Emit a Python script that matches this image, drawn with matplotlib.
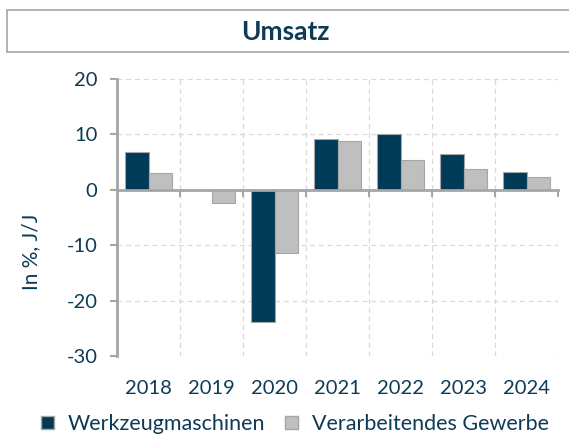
import matplotlib
matplotlib.use("Agg")
import matplotlib.pyplot as plt
from matplotlib.patches import Rectangle, Patch
import numpy as np

years = ["2018", "2019", "2020", "2021", "2022", "2023", "2024"]
werkzeug = [6.8, 0.0, -23.8, 9.1, 10.1, 6.4, 3.3]
gewerbe = [3.1, -2.3, -11.4, 8.8, 5.4, 3.7, 2.3]
yticks = [-30, -20, -10, 0, 10, 20]

DARK = "#003a57"
GREY = "#bfbfbf"
EDGE = "#a6a6a6"
TXT = "#0d3b55"

plt.rcParams['font.family'] = ['Lato', 'DejaVu Sans']
plt.rcParams['axes.unicode_minus'] = False

fig = plt.figure(figsize=(5.69, 4.38), dpi=100)
ax = fig.add_axes([117/569, 1-356/438, (558-117)/569, (356-79)/438])

x = np.arange(len(years))
w = 0.37
ax.bar(x - w/2, werkzeug, w, color=DARK, edgecolor=EDGE, linewidth=0.8, zorder=3)
ax.bar(x + w/2, gewerbe, w, color=GREY, edgecolor=EDGE, linewidth=0.8, zorder=3)

ax.set_xlim(-0.5, len(years) - 0.5)
ax.set_ylim(-30, 20)
ax.set_yticks(yticks)
ax.tick_params(axis='y', colors=EDGE, labelcolor=TXT, labelsize=14.5, length=5, width=1.5, direction='out', pad=9)

ax.spines['bottom'].set_position(('data', 0))
ax.spines['bottom'].set_color(EDGE)
ax.spines['bottom'].set_linewidth(2)
ax.spines['bottom'].set_zorder(4)
ax.spines['left'].set_color(EDGE)
ax.spines['left'].set_linewidth(2)
ax.spines['top'].set_visible(False)
ax.spines['right'].set_visible(False)

ax.set_xticks(x)
ax.set_xticklabels([])
ax.tick_params(axis='x', which='major', length=0)
ax.set_xticks(np.arange(0.5, len(years), 1.0), minor=True)
ax.tick_params(axis='x', which='minor', length=5, width=1.5, colors=EDGE, direction='out')

ax.grid(axis='y', which='major', linestyle=(0, (4, 3)), color="#d9d9d9", linewidth=0.9, zorder=0)
ax.grid(axis='x', which='minor', linestyle=(0, (4, 3)), color="#d9d9d9", linewidth=0.9, zorder=0)

sec = ax.secondary_xaxis(0)
sec.set_xticks(x)
sec.set_xticklabels(years)
sec.tick_params(length=0, labelsize=14.5, labelcolor=TXT, pad=17)
sec.spines['bottom'].set_visible(False)

ax.set_ylabel("In %, J/J", color=TXT, fontsize=15)
ax.yaxis.set_label_coords((41 - 117) / 441, (356 - 252) / 277)

fig.patches.append(Rectangle((7/569, 1-52/438), 570/569, 42/438, transform=fig.transFigure,
                             facecolor='white', edgecolor="#a6a6a6", linewidth=1.2))
fig.text(285/569, 1-32/438, "Umsatz", ha='center', va='center', fontsize=19,
         fontweight='bold', color=TXT)

handles = [Patch(facecolor=DARK, edgecolor=EDGE, label="Werkzeugmaschinen"),
           Patch(facecolor=GREY, edgecolor=EDGE, label="Verarbeitendes Gewerbe")]
fig.legend(handles=handles, loc='center', bbox_to_anchor=(295/569, 1-424/438), ncol=2,
           frameon=False, fontsize=15.5, handlelength=0.6, handleheight=0.6,
           handletextpad=0.65, columnspacing=0.9, labelcolor=TXT, borderpad=0)

fig.savefig("out.png", dpi=100)
